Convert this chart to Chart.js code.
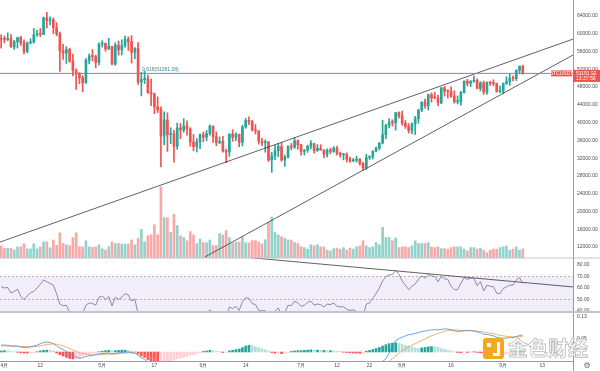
<!DOCTYPE html>
<html>
<head>
<meta charset="utf-8">
<script src="https://cdn.jsdelivr.net/npm/chart.js@4.4.1/dist/chart.umd.min.js"></script>
<style>
  html, body { margin: 0; padding: 0; background: #fff; }
  #wrap { position: relative; width: 600px; height: 371px; overflow: hidden; }
  #mark { position: absolute; left: 483px; top: 337px; display: flex; align-items: center; pointer-events: none; }
  #mark .logo { width: 21px; height: 21px; border-radius: 3px; background: #f5a623; position: relative; margin-right: 4px; }
  #mark .logo::before { content: ''; position: absolute; left: 4px; top: 5px; width: 4px; height: 4px; background: #fff; }
  #mark .logo::after { content: ''; position: absolute; left: 10px; top: 4px; width: 4px; height: 11px; border-right: 3px solid #fff; border-bottom: 3px solid #fff; }
  #mark .txt { font-family: 'Noto Sans CJK SC', sans-serif; font-size: 20px; font-weight: 700; color: rgba(255,255,255,0.85); -webkit-text-stroke: 0.8px #b9b9b9; letter-spacing: 0px; line-height: 22px; }
</style>
</head>
<body>
<div id="wrap">
  <canvas id="chart" width="600" height="371"></canvas>
  <div id="mark"><div class="logo"></div><div class="txt">金色财经</div></div>
</div>
<script>
// ============================================================
// BTCUSDT daily — candles, volume, RSI, MACD
// day index: 0 = 30 Mar 2021, first candle = 31 Mar
// ============================================================

const firstDay  = 1;
const firstOpen = 58746;

const closes = [
  58740,
  58720, 58950, 57050, 58200, 59130, 57990, 56000, 57970, 58100, 59770, 59980, 59850, 63580, 62960, 63160,
  61330, 60000, 56150, 55660, 56470, 53800, 51700, 51190, 50100, 49000, 54020, 55040, 54850, 53560, 57690,
  57800, 56580, 57170, 53200, 57440, 56400, 57350, 58800, 58240, 55840, 56700, 49150, 49700, 49900, 46760,
  46430, 43540, 42900, 36970, 40600, 37300, 37540, 34650, 38800, 38330, 39240, 38530, 35660, 34600, 35680, 37250,
  36690, 37570, 39190, 36850, 35520, 35800, 33590, 33400, 37390, 36690, 37340, 35550, 39020, 40520, 40140,
  38350, 38090, 35820, 35480, 35600, 31610, 32510, 33680, 34660, 31590, 32260, 34700, 34490, 35900, 35040,
  33540, 33820, 34690, 35290, 33690, 34220, 33860, 32880, 33810, 33520, 34260, 33090, 32730, 32820, 31780,
  31390, 31530, 31780, 30840, 29790, 32140, 32290, 33590, 34290, 35410, 37280, 39460, 40030, 40010, 42240, 41460,
  39850, 39150, 38200, 39720, 40890, 42850, 44610, 43820, 46290, 45600, 45560, 44430, 47830, 47080, 47030,
  45940, 44700, 44720, 46760, 49340, 48870, 49290, 49530, 47700, 48950, 46860, 49080, 48900, 48800, 46990, 47100,
  48810, 49250, 49940, 49920, 51760, 52660, 51192
];

const highs = [
  59800,
  59490, 60200, 59790, 58500, 59250, 59470, 58650, 58150, 58900, 61200, 60800, 61200, 63780, 64850, 63800,
  63600, 62500, 60400, 57600, 57100, 56760, 55410, 52130, 51200, 50550, 54400, 55460, 56430, 55200, 57960,
  58450, 57950, 58980, 57200, 57950, 58360, 58650, 59500, 59300, 59580, 56900, 58000, 51350, 51580, 50700,
  49800, 46640, 45800, 43550, 42450, 42200, 38850, 38250, 39900, 39800, 40900, 40400, 38860, 37330, 36400, 37500,
  37890, 38230, 39480, 39290, 37900, 36790, 36900, 34070, 37530, 38400, 37690, 37440, 39380, 41000, 41330,
  40530, 39560, 38200, 36460, 36100, 35750, 33300, 34880, 35300, 35500, 32700, 34750, 35300, 36600, 36100,
  35040, 33940, 34950, 35950, 35290, 35060, 35050, 33900, 34100, 34260, 34590, 34680, 33340, 33100, 33200,
  32250, 31950, 32440, 31900, 31060, 32860, 32580, 33650, 34500, 35500, 40550, 39540, 40900, 40640, 42320, 42410,
  42600, 40480, 39780, 39970, 41400, 43000, 44700, 45300, 46450, 46700, 46800, 46200, 47900, 48150, 47400,
  48050, 47160, 46000, 47060, 49380, 49760, 49500, 50500, 49880, 49240, 49350, 49200, 49300, 49640, 48900, 48250,
  48950, 50340, 51050, 50560, 51900, 52780, 52920
];

const lows = [
  56770,
  57930, 58430, 56900, 56500, 56800, 57350, 55470, 55700, 57670, 57870, 59380, 59370, 59850, 61300, 62020,
  60000, 59580, 51500, 54220, 53300, 53600, 50500, 47500, 48750, 46930, 48800, 53220, 53880, 52330, 53010,
  57000, 56050, 56440, 53000, 52900, 55200, 55250, 56900, 56250, 53400, 54370, 48600, 46000, 48800, 46550,
  43820, 42000, 42250, 30000, 35000, 33500, 35250, 31100, 34000, 36400, 37800, 37200, 34700, 33630, 33380, 34150,
  35660, 35920, 37170, 35570, 34800, 35260, 33330, 31000, 32400, 35780, 35940, 34600, 34760, 38730, 39510,
  38120, 37440, 35130, 34800, 33350, 31250, 28800, 31680, 32300, 31280, 30150, 32000, 33860, 34200, 34000,
  32700, 32700, 33300, 34100, 33150, 33530, 33780, 32100, 32250, 33000, 33320, 32660, 32200, 31600, 31130,
  31030, 31180, 31100, 30400, 29280, 29480, 31700, 31800, 33400, 33850, 35200, 36400, 38800, 39200, 38310, 41000,
  39420, 38690, 37640, 37510, 37330, 39850, 42450, 43260, 42850, 44600, 45350, 43800, 44260, 45970, 45520,
  45650, 44380, 44200, 43950, 46630, 48250, 48080, 49030, 47600, 47130, 46330, 46370, 48370, 48280, 46850, 46700,
  46510, 48590, 48370, 49400, 49500, 50970, 50900
];

// volume, thousand BTC
const volumes = [
  48, 38, 38, 38, 32, 44, 44, 56, 36, 36,
  56, 36, 44, 64, 64, 40, 71, 50, 99, 57,
  52, 49, 81, 99, 44, 44, 68, 44, 42, 44,
  52, 36, 32, 44, 64, 57, 57, 55, 55, 55,
  71, 52, 77, 113, 64, 88, 92, 131, 92, 280,
  159, 159, 101, 172, 128, 87, 81, 68, 104, 91,
  57, 75, 61, 60, 71, 49, 49, 97, 91, 108,
  80, 60, 63, 63, 83, 60, 60, 69, 69, 63,
  56, 72, 140, 161, 101, 91, 84, 78, 71, 71,
  61, 57, 44, 41, 35, 52, 48, 52, 44, 44,
  31, 28, 37, 39, 35, 41, 31, 39, 35, 44,
  48, 68, 48, 41, 44, 61, 52, 121, 81, 81,
  68, 79, 41, 44, 44, 41, 48, 68, 57, 57,
  57, 61, 44, 41, 44, 37, 37, 35, 41, 44,
  44, 44, 35, 28, 41, 41, 35, 39, 31, 21,
  31, 35, 35, 41, 44, 48, 31, 35, 44, 31, 36
];

const rsi = [
  61, 60, 60.5, 55.6, 57, 59, 53, 50, 53, 56,
  57, 60, 63, 67, 65.5, 64, 62.5, 55, 46, 44.5,
  45, 39, 36.5, 36, 34.5, 38, 45, 47, 46.5, 45,
  52, 53, 50, 52.5, 44.5, 52, 50, 52, 55, 54,
  48.5, 50.5, 37, 38, 38.5, 34.5, 34, 30.5, 30, 22,
  30, 27, 27.5, 25, 33, 32.5, 34, 33.5, 30, 29,
  31, 35, 34.5, 36.5, 41, 37, 35.5, 36, 33.5, 33.5,
  43.5, 42, 44, 40.5, 48, 51.5, 51, 46.5, 45.5, 40.5,
  40, 40.3, 33.5, 36, 40, 42.5, 37, 38.5, 45, 44.5,
  48.5, 47, 44, 45, 47.5, 48.5, 45, 46, 45.5, 43.5,
  46, 45.5, 47, 44, 43.5, 43.7, 41.5, 40.5, 41, 39.5,
  37.5, 35.5, 46, 47, 51, 55, 60, 66, 70, 71.5,
  71.5, 75.5, 72, 66, 62.5, 58.5, 61.5, 63.5, 67.5, 70.5,
  68.5, 72, 70.5, 70, 65.5, 70, 68, 67.5, 61.5, 58.5,
  58.5, 64, 69, 67.5, 68.5, 68.5, 62, 65.5, 57.5, 62.5,
  61.5, 61, 55.5, 55, 59.5, 61, 62.5, 62.5, 67, 69, 64
];

const macdLine = [
  .026, .026, .025, .022, .022, .022, .018, .017, .017, .019,
  .022, .025, .031, .035, .037, .035, .031, .023, .015, .009,
  .002, -.006, -.013, -.019, -.024, -.021, -.017, -.014, -.013, -.009,
  -.007, -.006, -.005, -.004, -.007, -.005, -.004, -.002, .000, .000,
  -.003, -.004, -.013, -.021, -.028, -.038, -.048, -.060, -.072, -.092,
  -.100, -.110, -.117, -.127, -.128, -.128, -.126, -.127, -.128, -.127,
  -.124, -.118, -.113, -.106, -.097, -.093, -.091, -.090, -.092, -.094,
  -.085, -.080, -.074, -.072, -.064, -.055, -.048, -.046, -.044, -.046,
  -.048, -.049, -.058, -.062, -.063, -.062, -.068, -.070, -.066, -.062,
  -.056, -.053, -.053, -.052, -.049, -.045, -.046, -.045, -.044, -.044,
  -.043, -.041, -.042, -.044, -.046, -.048, -.049, -.051, -.052, -.055,
  -.058, -.063, -.060, -.056, -.050, -.044, -.040, -.035, -.025, -.005,
  .020, .042, .050, .055, .060, .064, .066, .069, .072, .076,
  .078, .080, .082, .083, .082, .084, .086, .085, .082, .079,
  .076, .077, .079, .079, .079, .078, .074, .072, .066, .065,
  .063, .060, .055, .052, .051, .052, .053, .054, .057, .062, .063
];

const signalLine = [
  .022, .022, .022, .022, .022, .022, .021, .020, .020, .020,
  .020, .021, .023, .025, .028, .029, .030, .029, .026, .023,
  .018, .013, .008, .002, -.003, -.006, -.008, -.010, -.011, -.011,
  -.010, -.010, -.009, -.008, -.008, -.007, -.006, -.005, -.004, -.003,
  -.003, -.003, -.005, -.008, -.012, -.017, -.023, -.030, -.038, -.049,
  -.059, -.069, -.079, -.088, -.096, -.102, -.107, -.111, -.114, -.117,
  -.118, -.118, -.117, -.115, -.111, -.108, -.104, -.101, -.099, -.098,
  -.095, -.092, -.088, -.085, -.081, -.076, -.071, -.066, -.062, -.059,
  -.057, -.055, -.056, -.057, -.058, -.059, -.061, -.063, -.063, -.063,
  -.062, -.060, -.058, -.057, -.055, -.053, -.052, -.050, -.049, -.048,
  -.047, -.046, -.045, -.045, -.045, -.046, -.046, -.047, -.048, -.049,
  -.051, -.053, -.054, -.055, -.054, -.052, -.049, -.046, -.042, -.035,
  -.025, -.015, -.005, .005, .012, .019, .025, .031, .037, .043,
  .049, .055, .060, .065, .069, .073, .077, .080, .082, .082,
  .081, .080, .080, .080, .080, .079, .078, .076, .074, .072,
  .070, .068, .065, .062, .060, .058, .057, .056, .056, .057, .058
];

const macdHist = [
  .004, .005, .003, .002, .001, -.001, -.003, -.004, -.004, -.003,
  -.002, .001, .004, .006, .007, .006, .004, -.004, -.010, -.015,
  -.020, -.024, -.026, -.025, -.022, -.015, -.010, -.007, -.005, -.003,
  .001, .003, .005, .006, .004, .005, .006, .007, .007, .005,
  .004, .002, -.008, -.015, -.020, -.028, -.035, -.040, -.055, -.050,
  -.045, -.040, -.035, -.030, -.025, -.022, -.020, -.016, -.012, -.010,
  -.007, -.004, .002, .004, .006, .005, .002, .001, -.002, -.001,
  .004, .006, .009, .011, .016, .022, .025, .024, .020, .016,
  .012, .008, .004, -.002, -.004, -.003, -.006, -.005, -.002, .002,
  .004, .005, .005, .006, .007, .008, .007, .007, .006, .006,
  .005, .005, .004, .003, .002, -.001, -.002, -.003, -.004, -.004,
  -.005, -.004, .003, .006, .009, .013, .017, .022, .027, .031,
  .033, .034, .032, .028, .025, .021, .018, .015, .013, .015,
  .017, .019, .020, .019, .017, .013, .010, .007, .004, .001,
  -.002, -.003, -.001, -.002, -.001, .001, -.002, -.003, -.005, -.006,
  -.006, -.007, -.009, -.010, -.009, -.007, -.005, -.003, .001, .004, .004
];

// x axis ticks (day index) and their labels
const tickDays   = [2, 13, 32, 48, 63, 76, 93, 104, 114, 124, 139, 155, 167];
const tickLabels = ['4月', '12', '5月', '17', '6月', '14', '7月', '12', '22', '8月', '16', '9月', '13'];

const priceTicks = [12000, 16000, 20000, 24000, 28000, 32000, 36000, 40000, 44000, 48000, 52000, 56000, 60000, 64000];
const rsiTicks   = [40, 50, 60, 70, 80];
const macdTicks  = [0.05, 0.13];

// drawings
const fibLevel    = 51081.28;
const fibLabelDay = 44.2;
const upperTrend  = [{ x: 0.6, y: 13100 }, { x: 176.4, y: 58800 }];
const lowerTrend  = [{ x: 63.5, y: 9750 }, { x: 176.4, y: 55220 }];
const rsiTrend    = [{ x: 77, y: 86.5 }, { x: 176.4, y: 60.9 }];
const rsiBand     = [30, 70];
const rsiMid      = 50;
const lastTag     = { symbol: 'BTCUSDT', price: '51191.92', timer: '13:37:58' };

// view ranges
const X_MIN = 0.64, X_MAX = 176.4;

// ------------------------------------------------------------
const UP = '#26a69a', DOWN = '#ef5350';
const AXIS_FONT = { family: "'Liberation Sans', Arial, sans-serif", size: 5 };
const TEXT = '#4a4d57';

const opens = closes.map((c, i) => i === 0 ? firstOpen : closes[i - 1]);
const day = i => firstDay + i;
const candleColor = i => closes[i] >= opens[i] ? UP : DOWN;

const histColor = i => {
  const v = macdHist[i], prev = i > 0 ? macdHist[i - 1] : 0;
  if (v >= 0) return v >= prev ? '#26a69a' : '#b2dfdb';
  return v <= prev ? '#ff5252' : '#ffcdd2';
};

// clip every dataset to its own pane
const paneClip = {
  id: 'paneClip',
  beforeDatasetDraw(chart, args) {
    const pane = chart.scales[chart.data.datasets[args.index].pane];
    const { ctx, chartArea } = chart;
    ctx.save();
    ctx.beginPath();
    ctx.rect(chartArea.left, pane.top, chartArea.right - chartArea.left, pane.bottom - pane.top);
    ctx.clip();
  },
  afterDatasetDraw(chart) { chart.ctx.restore(); }
};

const decorations = {
  id: 'decorations',
  beforeDatasetsDraw(chart) {
    const { ctx, chartArea, scales } = chart;
    const r = scales.rsi;
    ctx.save();
    ctx.beginPath();
    ctx.rect(chartArea.left, r.top, chartArea.right - chartArea.left, r.bottom - r.top);
    ctx.clip();
    const yTop = r.getPixelForValue(rsiBand[1]), yBot = r.getPixelForValue(rsiBand[0]);
    ctx.fillStyle = 'rgba(126,87,194,0.1)';
    ctx.fillRect(chartArea.left, yTop, chartArea.right - chartArea.left, yBot - yTop);
    ctx.strokeStyle = '#9a9aa6';
    ctx.lineWidth = 0.7;
    ctx.setLineDash([2, 2]);
    [rsiBand[1], rsiMid, rsiBand[0]].forEach(v => {
      const y = Math.round(r.getPixelForValue(v)) + 0.5;
      ctx.beginPath();
      ctx.moveTo(chartArea.left, y);
      ctx.lineTo(chartArea.right, y);
      ctx.stroke();
    });
    ctx.restore();
  },
  afterDraw(chart) {
    const { ctx, chartArea, scales } = chart;
    const px = scales.x, py = scales.y;
    ctx.save();

    // pane separators
    ctx.strokeStyle = '#c4c4cc';
    [scales.rsi.top, scales.macd.top].forEach((y, k) => {
      ctx.lineWidth = k === 1 ? 2 : 1;
      ctx.beginPath();
      ctx.moveTo(0, y);
      ctx.lineTo(chart.width, y);
      ctx.stroke();
    });
    ctx.lineWidth = 1;
    ctx.strokeStyle = '#9a9aa0';
    ctx.beginPath();
    ctx.moveTo(py.left + 0.5, chartArea.bottom);
    ctx.lineTo(py.left + 0.5, chart.height);
    ctx.stroke();

    // fib label
    ctx.font = "5px 'Liberation Sans', Arial, sans-serif";
    ctx.fillStyle = '#3d8f8f';
    ctx.textAlign = 'left';
    ctx.textBaseline = 'bottom';
    ctx.fillText('0.618(' + fibLevel.toFixed(2) + ')', px.getPixelForValue(fibLabelDay), py.getPixelForValue(fibLevel) - 1);

    // last price tag
    const yLast = py.getPixelForValue(closes[closes.length - 1]);
    ctx.fillStyle = DOWN;
    ctx.fillRect(py.left, yLast - 3, chart.width - py.left, 12);
    ctx.fillRect(py.left - 22, yLast - 2.5, 21, 6);
    ctx.fillStyle = '#fff';
    ctx.textBaseline = 'middle';
    ctx.textAlign = 'center';
    ctx.fillText(lastTag.symbol, py.left - 11.5, yLast + 0.5);
    ctx.textAlign = 'left';
    ctx.fillText(lastTag.price, py.left + 3, yLast + 0.5);
    ctx.fillText(lastTag.timer, py.left + 3, yLast + 6);

    // settings glyph
    ctx.fillStyle = '#666';
    ctx.font = "8px 'DejaVu Sans', sans-serif";
    ctx.textAlign = 'center';
    ctx.fillText('⚙', py.left + 14, chartArea.bottom + 5);
    ctx.restore();
  }
};

const pts = arr => arr.map((v, i) => ({ x: day(i), y: v }));

const lineSet = (data, color, axis, width) => ({
  type: 'line', data, yAxisID: axis, pane: axis,
  borderColor: color, borderWidth: width, pointRadius: 0, tension: 0, order: 0
});

const yAxis = (weight, min, max, ticks, fmt) => ({
  type: 'linear', position: 'right', stack: 'panes', stackWeight: weight,
  min, max,
  afterBuildTicks: s => { s.ticks = ticks.map(v => ({ value: v })); },
  afterFit: s => { s.width = 27; s.paddingTop = 0; s.paddingBottom = 0; },
  grid: { display: false, drawTicks: false },
  border: { display: true, color: '#9a9aa0', width: 1 },
  ticks: { font: AXIS_FONT, color: TEXT, padding: 4, autoSkip: false, callback: fmt }
});

new Chart(document.getElementById('chart'), {
  data: {
    datasets: [
      {
        type: 'bar', label: 'volume', yAxisID: 'vol', pane: 'y', order: 9,
        data: pts(volumes),
        backgroundColor: volumes.map((v, i) => closes[i] >= opens[i] ? 'rgba(38,166,154,0.5)' : 'rgba(239,83,80,0.5)'),
        barThickness: 2, grouped: false
      },
      {
        type: 'bar', label: 'wick', yAxisID: 'y', pane: 'y', order: 3,
        data: highs.map((h, i) => ({ x: day(i), y: [lows[i], h] })),
        backgroundColor: highs.map((h, i) => candleColor(i)),
        barThickness: 1, grouped: false
      },
      {
        type: 'bar', label: 'body', yAxisID: 'y', pane: 'y', order: 2,
        data: closes.map((c, i) => ({ x: day(i), y: [opens[i], c] })),
        backgroundColor: closes.map((c, i) => candleColor(i)),
        barThickness: 2, grouped: false, minBarLength: 1
      },
      lineSet([{ x: X_MIN, y: fibLevel }, { x: X_MAX, y: fibLevel }], '#5b9e9e', 'y', 1),
      lineSet(upperTrend, '#3a3a3a', 'y', 0.8),
      lineSet(lowerTrend, '#3a3a3a', 'y', 0.8),
      lineSet(pts(rsi), '#7a6a9a', 'rsi', 0.8),
      lineSet(rsiTrend, '#3a3a3a', 'rsi', 0.8),
      {
        type: 'bar', label: 'hist', yAxisID: 'macd', pane: 'macd', order: 4,
        data: pts(macdHist),
        backgroundColor: macdHist.map((v, i) => histColor(i)),
        barThickness: 2, grouped: false
      },
      lineSet(pts(macdLine), '#3d8fe0', 'macd', 0.8),
      lineSet(pts(signalLine), '#f39a4c', 'macd', 0.8)
    ]
  },
  options: {
    responsive: false,
    devicePixelRatio: 1,
    animation: false,
    events: [],
    layout: { padding: 0 },
    plugins: { legend: { display: false }, tooltip: { enabled: false } },
    scales: {
      x: {
        type: 'linear', position: 'bottom', min: X_MIN, max: X_MAX, offset: false,
        afterBuildTicks: s => { s.ticks = tickDays.map(v => ({ value: v })); },
        afterFit: s => { s.height = 10; s.paddingLeft = 0; s.paddingRight = 0; },
        grid: { display: false, drawTicks: false, offset: false },
        border: { display: true, color: '#9a9aa0', width: 1 },
        ticks: { font: AXIS_FONT, color: TEXT, padding: 2, autoSkip: false, maxRotation: 0,
                 callback: (v, i) => tickLabels[i] }
      },
      y:    yAxis(258, 9524, 67602, priceTicks, v => v.toFixed(2)),
      rsi:  yAxis(54, 39.1, 86.1, rsiTicks, v => v.toFixed(2)),
      macd: yAxis(49, -0.0335, 0.1486, macdTicks, v => v.toFixed(2)),
      vol:  { type: 'linear', display: false, min: -406, max: 1017 }
    }
  },
  plugins: [paneClip, decorations]
});
</script>
</body>
</html>
